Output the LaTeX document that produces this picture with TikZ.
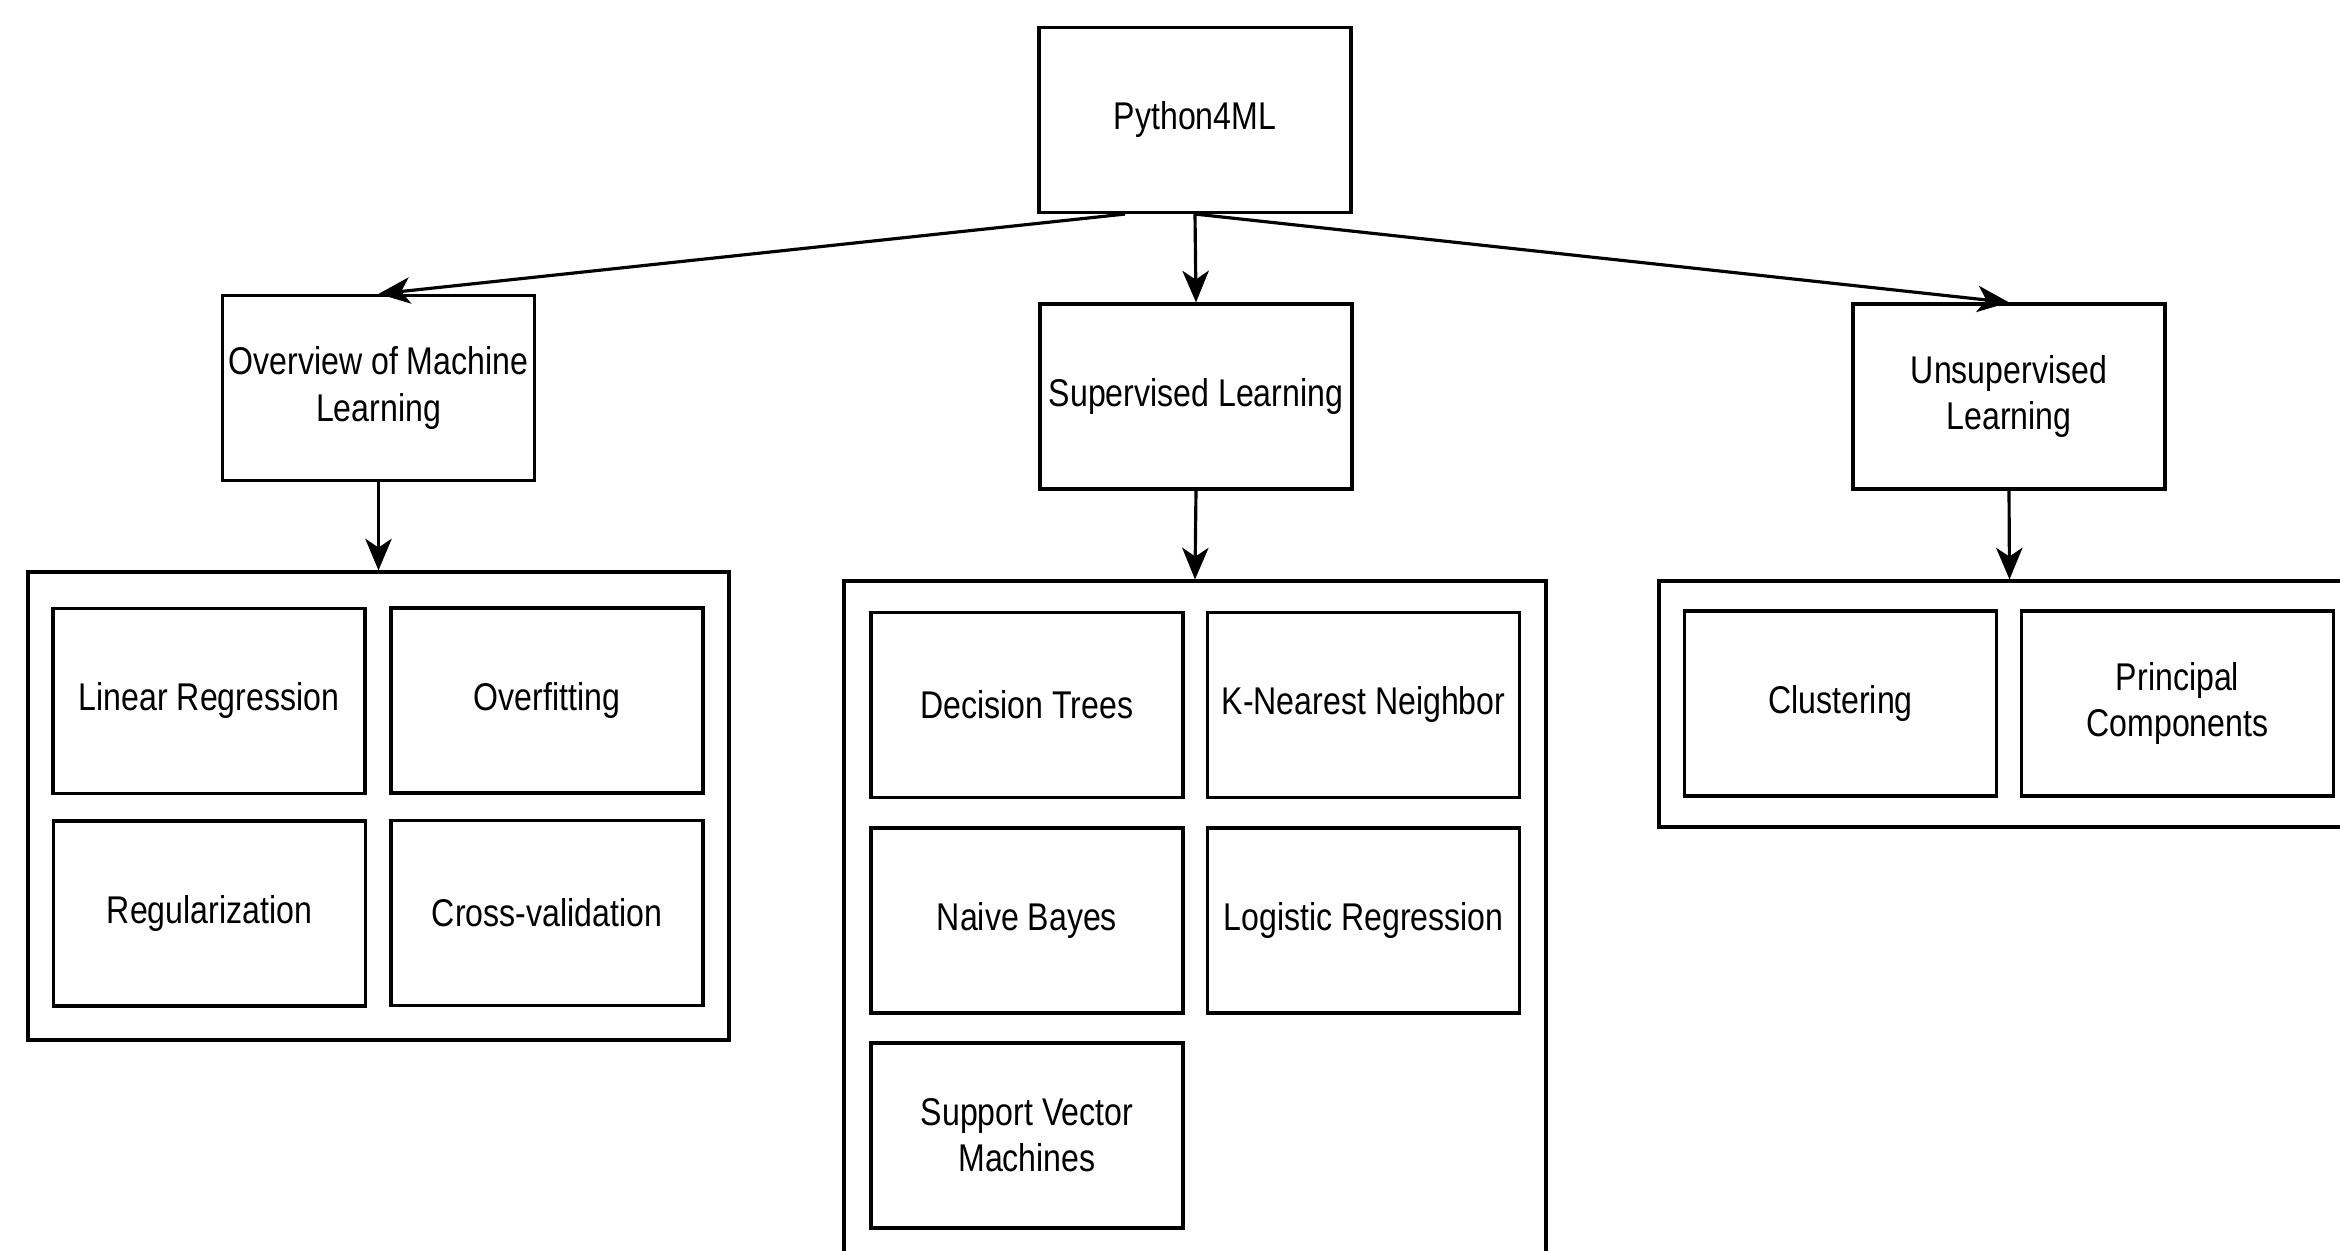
\documentclass[tikz,border=0pt]{standalone}
\usepackage{fontspec}
\setmainfont[FakeStretch=0.83]{Liberation Sans}
\usetikzlibrary{arrows.meta}
\tikzset{
    box/.style={draw, line width=0.9pt, minimum width=3.12cm, minimum height=1.85cm, inner sep=0pt, align=center, font=\fontsize{11}{13.1}\selectfont},
    panel/.style={draw, line width=0.9pt, inner sep=0pt},
    link/.style={line width=0.9pt, -{Stealth[length=9pt,width=7.5pt,inset=2.5pt]}}
}
\begin{document}
\begin{tikzpicture}
    \useasboundingbox (0,0) rectangle (23.4,-12.51);
    \clip (0,0) rectangle (23.4,-12.51);
%    \draw[help lines] (0,0) grid (23.4,-12.51);

\node[panel, minimum width=7.01cm, minimum height=4.68cm] (mlbox) at (3.785,-8.06) {};
\node[panel, minimum width=7.02cm, minimum height=6.81cm] (supbox) at (11.95,-9.215) {};
\node[panel, minimum width=7.01cm, minimum height=2.46cm] (unsbox) at (20.095,-7.04) {};

\node[box] (root) at (11.95,-1.2) {Python4ML};
\node[box] (ov) at (3.785,-3.88) {Overview of Machine\\Learning};
\node[box] (sup) at (11.96,-3.965) {Supervised Learning};
\node[box] (uns) at (20.09,-3.965) {Unsupervised\\Learning};

\node[box] (linreg) at (2.09,-7.01) {Linear Regression};
\node[box] (overfit) at (5.47,-7.005) {Overfitting};
\node[box] (regul) at (2.095,-9.135) {Regularization};
\node[box] (crossval) at (5.47,-9.13) {Cross-validation};

\node[box] (dtree) at (10.27,-7.05) {Decision Trees};
\node[box] (knn) at (13.635,-7.05) {K-Nearest Neighbor};
\node[box] (bayes) at (10.27,-9.205) {Naive Bayes};
\node[box] (logreg) at (13.635,-9.205) {Logistic Regression};
\node[box] (svm) at (10.27,-11.355) {Support Vector\\Machines};

\node[box] (cluster) at (18.405,-7.035) {Clustering};
\node[box] (pca) at (21.775,-7.035) {Principal\\Components};

\draw[link] ([xshift=-0.7cm]root.south) -- (ov.north);
\draw[link] (root.south) -- (sup.north);
\draw[link] (root.south) -- (uns.north);

\draw[link] (ov.south) -- (mlbox.north);
\draw[link] (sup.south) -- (supbox.north);
\draw[link] (uns.south) -- (unsbox.north);

\end{tikzpicture}
\end{document}
